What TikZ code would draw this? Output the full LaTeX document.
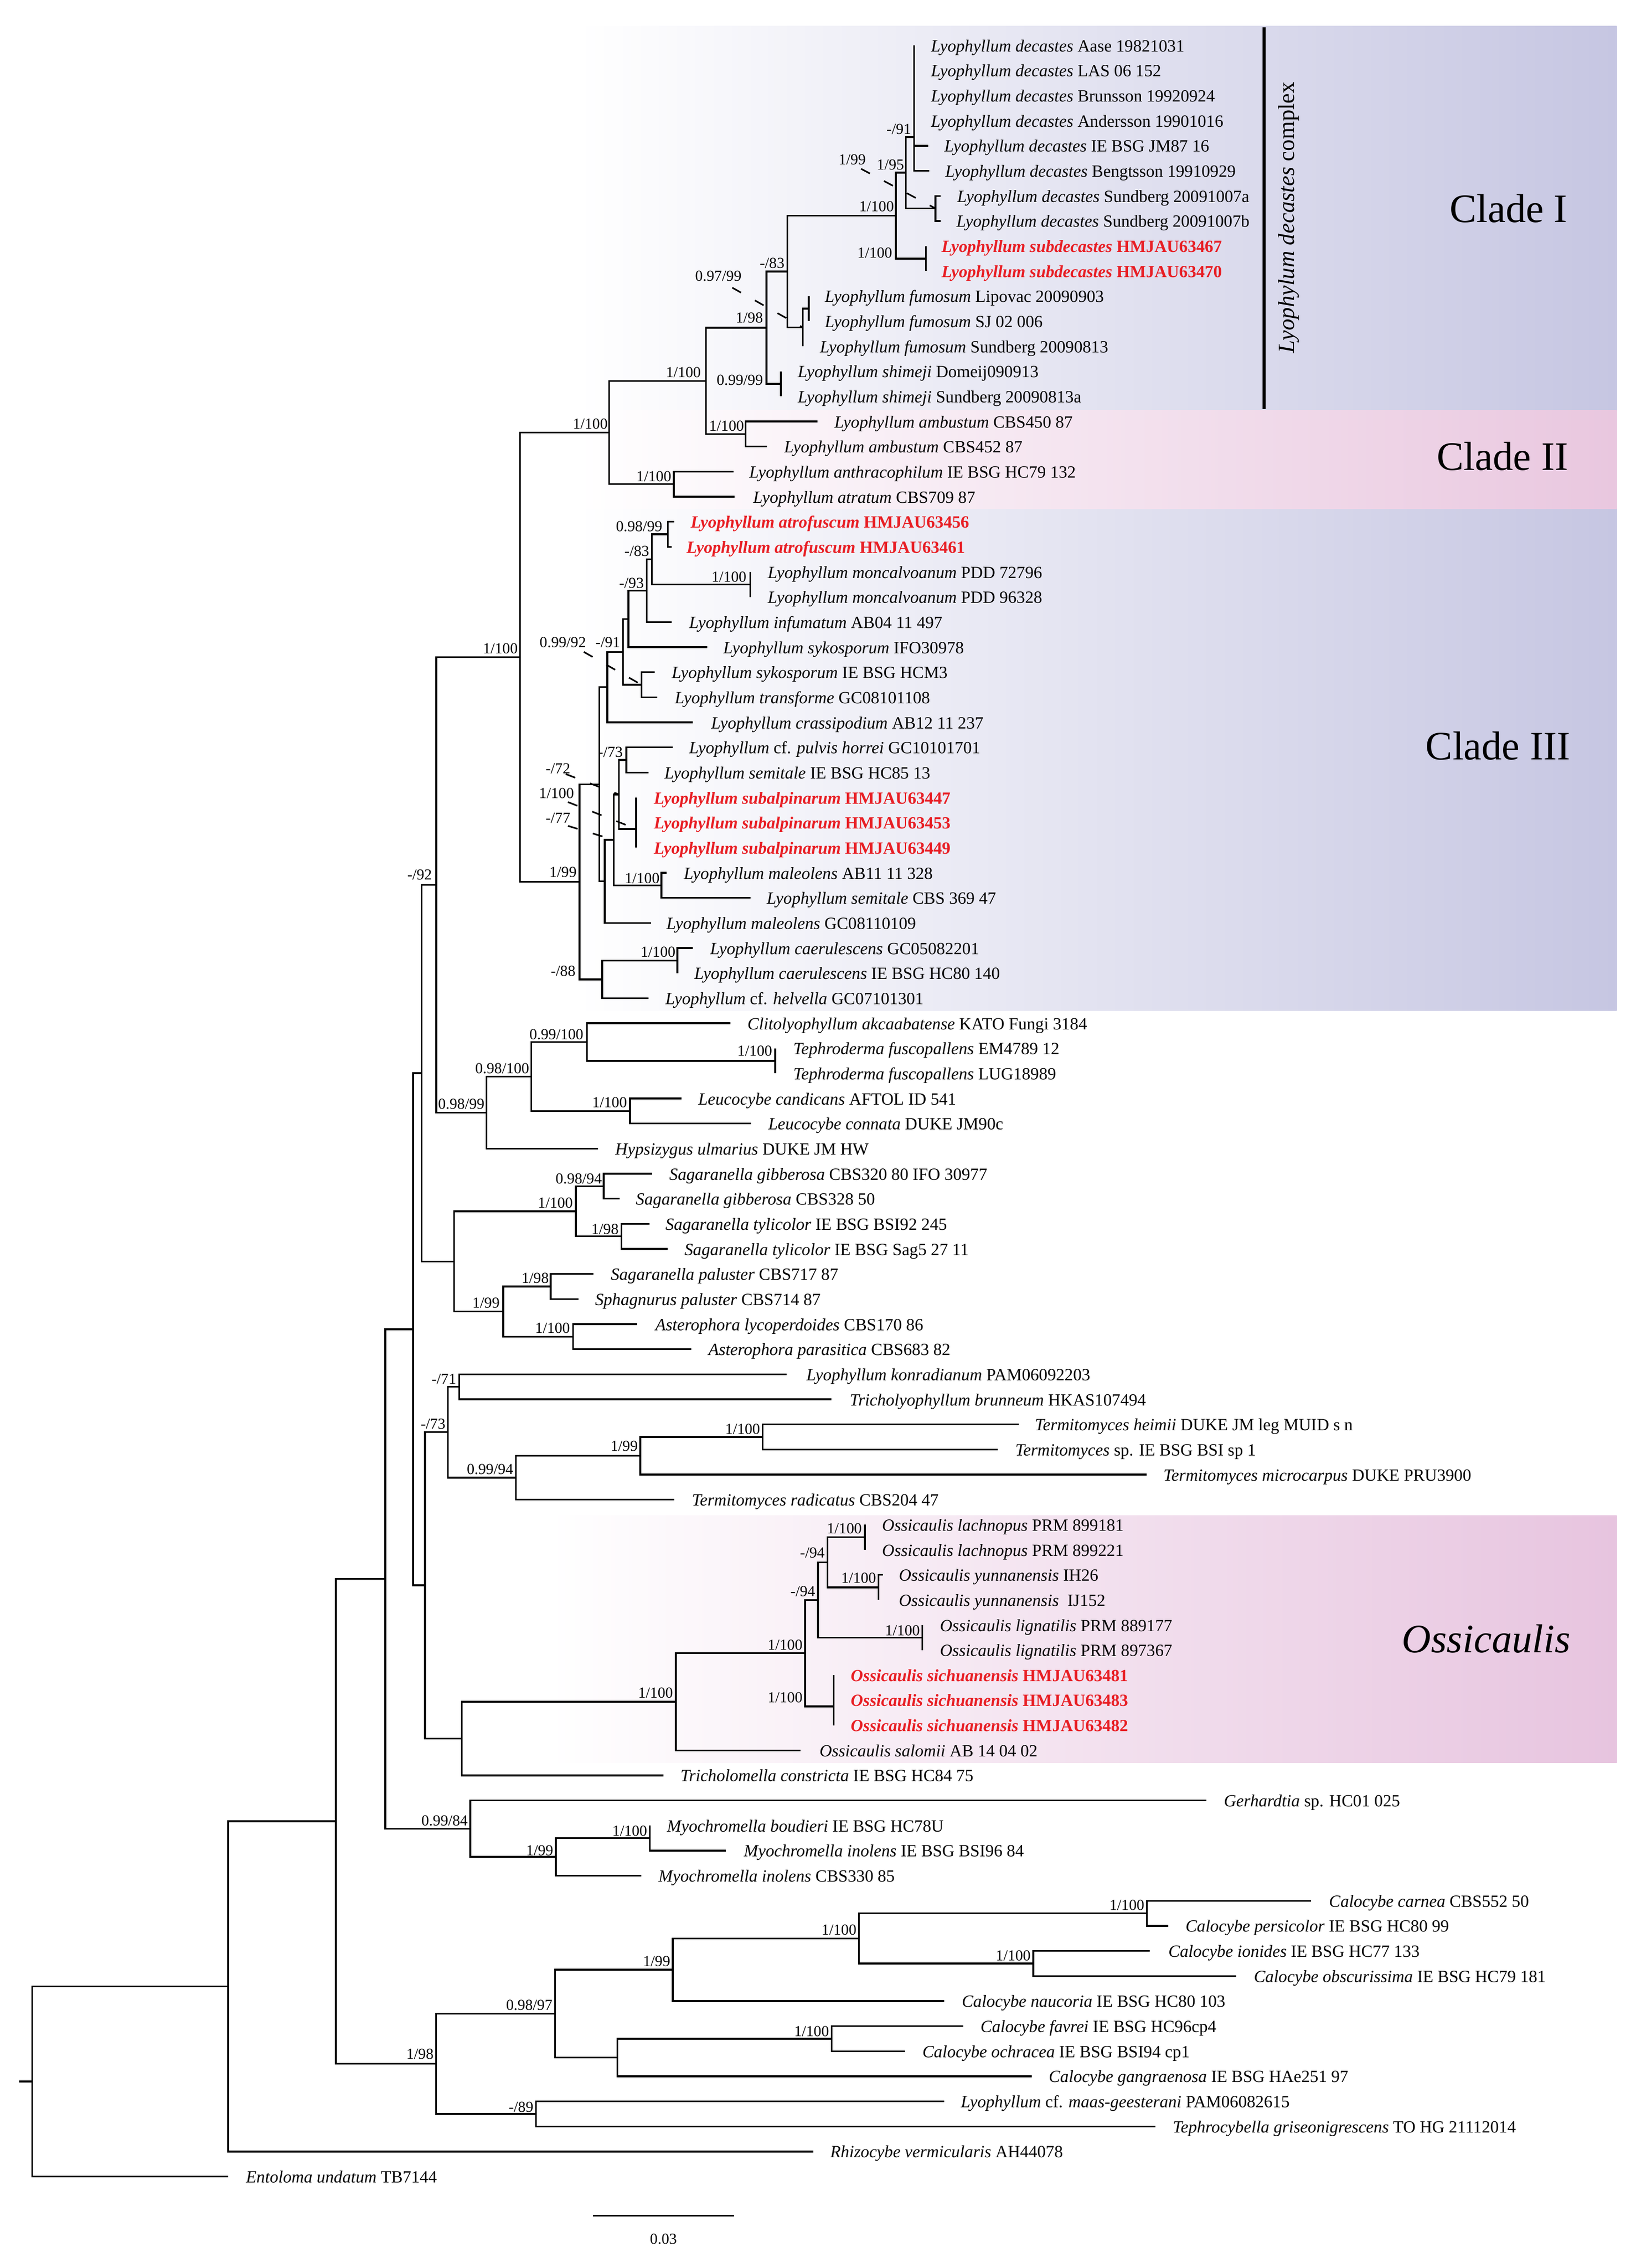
\documentclass[tikz,border=0pt]{standalone}
\usepackage{fontspec}
\setmainfont{Liberation Serif}
\definecolor{lav}{RGB}{198,198,226}
\definecolor{pinkb}{RGB}{233,199,223}
\definecolor{pinko}{RGB}{231,196,223}
\definecolor{hired}{RGB}{232,30,36}
\newcommand{\redl}[2]{\textcolor{hired}{\bfseries\textit{#1} #2}}
\newcommand{\lf}[4]{%
  \coordinate (e#1) at ({#2},{31.5+(#1-1)*17.38});
  \node[leaf] (t#1) at ({#3},{31.5+(#1-1)*17.38+4.3}) {#4};}
\newcommand{\bsl}[4]{\node[supl] (#1) at (#2,#3) {#4};}
\begin{document}
\begin{tikzpicture}[x=1pt,y=-1pt,
  leaf/.style={anchor=base west,inner sep=0pt,font=\fontsize{11.85}{13}\selectfont},
  supl/.style={anchor=base east,inner sep=0pt,font=\fontsize{10.6}{12}\selectfont},
  clade/.style={anchor=base east,inner sep=0pt,font=\fontsize{28}{32}\selectfont},
  branch/.style={line width=1.2pt,black},
  leader/.style={line width=1.1pt,black,dash pattern=on 7pt off 11pt}]
\useasboundingbox (0,0) rectangle (1134,1572.2);
\fill[white] (0,0) rectangle (1134,1572.2);
% clade backgrounds
\shade[left color=white,right color=lav] (400,17.9) rectangle (1121,700.6);
\shade[left color=white,right color=pinkb] (400,284.4) rectangle (1121,352.7);
\shade[left color=white,right color=pinko] (380,1050.4) rectangle (1121,1221.9);
% internal nodes
\coordinate (nO) at (633.7,95);
\coordinate (nP) at (648.6,144.47);
\coordinate (nN) at (628,119.7);
\coordinate (nSD) at (642,179.23);
\coordinate (nK) at (621.1,149.5);
\coordinate (nM) at (560.7,213.99);
\coordinate (nL) at (556.7,227.0);
\coordinate (nJ) at (545.8,188.25);
\coordinate (nSH) at (541.5,266.13);
\coordinate (nI) at (531.5,227.19);
\coordinate (nAM) at (517,300.89);
\coordinate (nH) at (489.4,264.04);
\coordinate (nAN) at (467.2,335.65);
\coordinate (nG) at (422.3,299.85);
\coordinate (nAF) at (463,370.41);
\coordinate (nMO) at (520.2,405.17);
\coordinate (nQ) at (452,387.79);
\coordinate (nR) at (448.4,409.52);
\coordinate (nS) at (435.7,429.07);
\coordinate (nU) at (444.8,474.69);
\coordinate (nT) at (432,451.88);
\coordinate (nV) at (421.1,476.32);
\coordinate (nAC) at (434.3,526.83);
\coordinate (nSB) at (441.1,574.6);
\coordinate (nAB) at (429.1,550.7);
\coordinate (nML) at (458.6,613.73);
\coordinate (nAA) at (425.5,582.2);
\coordinate (nZ) at (419.3,611.0);
\coordinate (nW) at (415.6,543.66);
\coordinate (nCA) at (469.6,665.87);
\coordinate (nE88) at (417.5,678.9);
\coordinate (nX) at (401.8,611.28);
\coordinate (nF) at (360.6,455.57);
\coordinate (nTE) at (537.5,735.39);
\coordinate (nCL) at (407,722.36);
\coordinate (nLE) at (436.8,770.15);
\coordinate (nCT) at (368.3,746.26);
\coordinate (nHY) at (337.3,771.24);
\coordinate (nE) at (302.5,613.4);
\coordinate (nGI) at (418.6,822.29);
\coordinate (nTY) at (431,857.05);
\coordinate (nSG) at (399.3,839.67);
\coordinate (nPA) at (381.8,891.81);
\coordinate (nAS) at (397.3,926.57);
\coordinate (nPS) at (348.9,909.19);
\coordinate (nSAG) at (314.8,874.43);
\coordinate (n92) at (292.3,743.9);
\coordinate (n71) at (318.3,961.33);
\coordinate (nTH) at (528.8,996.09);
\coordinate (nT99) at (444,1009.13);
\coordinate (nT94) at (357.7,1024.3);
\coordinate (n73) at (310.5,992.8);
\coordinate (nLA) at (599.7,1065.61);
\coordinate (nYU) at (609.2,1100.37);
\coordinate (nOa) at (573.7,1082.99);
\coordinate (nLI) at (639.5,1135.13);
\coordinate (nOb) at (567.2,1109.06);
\coordinate (nSI) at (578,1182.9);
\coordinate (nOc) at (558.2,1145.98);
\coordinate (nOS) at (468.6,1179.66);
\coordinate (nDD) at (320.1,1205.19);
\coordinate (nD) at (294.6,1099.0);
\coordinate (nC) at (286.5,921.45);
\coordinate (nMY1) at (450.5,1274.17);
\coordinate (nMY2) at (385.4,1287.2);
\coordinate (n84) at (326.1,1267.65);
\coordinate (nB) at (267.1,1094.55);
\coordinate (nCC) at (795.2,1326.31);
\coordinate (nIO) at (716.4,1361.07);
\coordinate (nCa) at (595.6,1343.69);
\coordinate (nCb) at (466.5,1365.42);
\coordinate (nFA) at (576.6,1413.21);
\coordinate (nGA) at (428,1426.25);
\coordinate (n97) at (384.8,1395.84);
\coordinate (n89) at (371.7,1465.35);
\coordinate (n98) at (302.4,1430.6);
\coordinate (nA) at (232.9,1262.58);
\coordinate (nRR) at (158.2,1377.0);
\coordinate (nRoot) at (22.4,1442.9);
\coordinate (nStub) at (13.3,1442.9);
% leaves
\lf{1}{633.7}{645.3}{\textit{Lyophyllum decastes} Aase 19821031}
\lf{2}{633.7}{645.3}{\textit{Lyophyllum decastes} LAS 06 152}
\lf{3}{633.7}{645.3}{\textit{Lyophyllum decastes} Brunsson 19920924}
\lf{4}{633.7}{645.3}{\textit{Lyophyllum decastes} Andersson 19901016}
\lf{5}{643.6}{654.6}{\textit{Lyophyllum decastes} IE BSG JM87 16}
\lf{6}{644.3}{655.2}{\textit{Lyophyllum decastes} Bengtsson 19910929}
\lf{7}{652}{663.5}{\textit{Lyophyllum decastes} Sundberg 20091007a}
\lf{8}{652}{663}{\textit{Lyophyllum decastes} Sundberg 20091007b}
\lf{9}{642}{652.6}{\redl{Lyophyllum subdecastes}{HMJAU63467}}
\lf{10}{642}{652.6}{\redl{Lyophyllum subdecastes}{HMJAU63470}}
\lf{11}{560.7}{571.7}{\textit{Lyophyllum fumosum} Lipovac 20090903}
\lf{12}{560.7}{571.7}{\textit{Lyophyllum fumosum} SJ 02 006}
\lf{13}{556.7}{568.3}{\textit{Lyophyllum fumosum} Sundberg 20090813}
\lf{14}{541.5}{553}{\textit{Lyophyllum shimeji} Domeij090913}
\lf{15}{541.5}{553}{\textit{Lyophyllum shimeji} Sundberg 20090813a}
\lf{16}{566.7}{578.3}{\textit{Lyophyllum ambustum} CBS450 87}
\lf{17}{531.9}{543.5}{\textit{Lyophyllum ambustum} CBS452 87}
\lf{18}{508.7}{519.3}{\textit{Lyophyllum anthracophilum} IE BSG HC79 132}
\lf{19}{509.3}{522}{\textit{Lyophyllum atratum} CBS709 87}
\lf{20}{467.4}{478.7}{\redl{Lyophyllum atrofuscum}{HMJAU63456}}
\lf{21}{465.6}{475.8}{\redl{Lyophyllum atrofuscum}{HMJAU63461}}
\lf{22}{520.2}{532.2}{\textit{Lyophyllum moncalvoanum} PDD 72796}
\lf{23}{520.2}{532.2}{\textit{Lyophyllum moncalvoanum} PDD 96328}
\lf{24}{465.6}{477.6}{\textit{Lyophyllum infumatum} AB04 11 497}
\lf{25}{490.3}{501.3}{\textit{Lyophyllum sykosporum} IFO30978}
\lf{26}{453.9}{465.6}{\textit{Lyophyllum sykosporum} IE BSG HCM3}
\lf{27}{455.7}{467.7}{\textit{Lyophyllum transforme} GC08101108}
\lf{28}{480.5}{492.9}{\textit{Lyophyllum crassipodium} AB12 11 237}
\lf{29}{466.6}{477.6}{\textit{Lyophyllum} cf. \textit{pulvis horrei} GC10101701}
\lf{30}{449.5}{460.5}{\textit{Lyophyllum semitale} IE BSG HC85 13}
\lf{31}{441.1}{453.2}{\redl{Lyophyllum subalpinarum}{HMJAU63447}}
\lf{32}{441.1}{453.2}{\redl{Lyophyllum subalpinarum}{HMJAU63453}}
\lf{33}{441.1}{453.2}{\redl{Lyophyllum subalpinarum}{HMJAU63449}}
\lf{34}{462}{474}{\textit{Lyophyllum maleolens} AB11 11 328}
\lf{35}{520.2}{531.5}{\textit{Lyophyllum semitale} CBS 369 47}
\lf{36}{451.3}{461.9}{\textit{Lyophyllum maleolens} GC08110109}
\lf{37}{480.5}{492.2}{\textit{Lyophyllum caerulescens} GC05082201}
\lf{38}{469.6}{481.2}{\textit{Lyophyllum caerulescens} IE BSG HC80 140}
\lf{39}{449.5}{461.2}{\textit{Lyophyllum} cf. \textit{helvella} GC07101301}
\lf{40}{506.5}{518.1}{\textit{Clitolyophyllum akcaabatense} KATO Fungi 3184}
\lf{41}{537.5}{549.9}{\textit{Tephroderma fuscopallens} EM4789 12}
\lf{42}{537.5}{549.9}{\textit{Tephroderma fuscopallens} LUG18989}
\lf{43}{472.4}{484}{\textit{Leucocybe candicans} AFTOL ID 541}
\lf{44}{520.8}{532.5}{\textit{Leucocybe connata} DUKE JM90c}
\lf{45}{414.7}{426.4}{\textit{Hypsizygus ulmarius} DUKE JM HW}
\lf{46}{452.3}{463.9}{\textit{Sagaranella gibberosa} CBS320 80 IFO 30977}
\lf{47}{429.8}{440.7}{\textit{Sagaranella gibberosa} CBS328 50}
\lf{48}{450.4}{461.2}{\textit{Sagaranella tylicolor} IE BSG BSI92 245}
\lf{49}{462.8}{474.4}{\textit{Sagaranella tylicolor} IE BSG Sag5 27 11}
\lf{50}{411.6}{423.3}{\textit{Sagaranella paluster} CBS717 87}
\lf{51}{401.2}{412.4}{\textit{Sphagnurus paluster} CBS714 87}
\lf{52}{441.8}{454.2}{\textit{Asterophora lycoperdoides} CBS170 86}
\lf{53}{479.4}{491}{\textit{Asterophora parasitica} CBS683 82}
\lf{54}{545.2}{559}{\textit{Lyophyllum konradianum} PAM06092203}
\lf{55}{576.4}{589}{\textit{Tricholyophyllum brunneum} HKAS107494}
\lf{56}{706.5}{717.4}{\textit{Termitomyces heimii} DUKE JM leg MUID s n}
\lf{57}{691.7}{703.8}{\textit{Termitomyces} sp. IE BSG BSI sp 1}
\lf{58}{795}{806.5}{\textit{Termitomyces microcarpus} DUKE PRU3900}
\lf{59}{467.6}{479.6}{\textit{Termitomyces radicatus} CBS204 47}
\lf{60}{599.7}{611.4}{\textit{Ossicaulis lachnopus} PRM 899181}
\lf{61}{599.7}{611.4}{\textit{Ossicaulis lachnopus} PRM 899221}
\lf{62}{612}{623.1}{\textit{Ossicaulis yunnanensis} IH26}
\lf{63}{609.2}{623.1}{\textit{Ossicaulis yunnanensis}\ \ IJ152}
\lf{64}{639.5}{651.6}{\textit{Ossicaulis lignatilis} PRM 889177}
\lf{65}{639.5}{651.6}{\textit{Ossicaulis lignatilis} PRM 897367}
\lf{66}{578}{589.7}{\redl{Ossicaulis sichuanensis}{HMJAU63481}}
\lf{67}{578}{589.7}{\redl{Ossicaulis sichuanensis}{HMJAU63483}}
\lf{68}{578}{589.7}{\redl{Ossicaulis sichuanensis}{HMJAU63482}}
\lf{69}{555.1}{568.1}{\textit{Ossicaulis salomii} AB 14 04 02}
\lf{70}{459.9}{471.6}{\textit{Tricholomella constricta} IE BSG HC84 75}
\lf{71}{836.6}{848.4}{\textit{Gerhardtia} sp. HC01 025}
\lf{72}{450.5}{462.3}{\textit{Myochromella boudieri} IE BSG HC78U}
\lf{73}{503.2}{515.6}{\textit{Myochromella inolens} IE BSG BSI96 84}
\lf{74}{444.6}{456.4}{\textit{Myochromella inolens} CBS330 85}
\lf{75}{908.9}{921.3}{\textit{Calocybe carnea} CBS552 50}
\lf{76}{810}{821.8}{\textit{Calocybe persicolor} IE BSG HC80 99}
\lf{77}{797}{810}{\textit{Calocybe ionides} IE BSG HC77 133}
\lf{78}{857.3}{869.2}{\textit{Calocybe obscurissima} IE BSG HC79 181}
\lf{79}{654.8}{666.7}{\textit{Calocybe naucoria} IE BSG HC80 103}
\lf{80}{667.8}{679.7}{\textit{Calocybe favrei} IE BSG HC96cp4}
\lf{81}{627.6}{639.4}{\textit{Calocybe ochracea} IE BSG BSI94 cp1}
\lf{82}{715.2}{727}{\textit{Calocybe gangraenosa} IE BSG HAe251 97}
\lf{83}{654.8}{666}{\textit{Lyophyllum} cf. \textit{maas-geesterani} PAM06082615}
\lf{84}{801}{813}{\textit{Tephrocybella griseonigrescens} TO HG 21112014}
\lf{85}{564}{575.5}{\textit{Rhizocybe vermicularis} AH44078}
\lf{86}{158.2}{170.4}{\textit{Entoloma undatum} TB7144}
% branches
\foreach \p/\c in {nO/e1,nO/e2,nO/e3,nO/e4,nO/e5,nO/e6,nP/e7,nP/e8,nN/nO,nN/nP,
  nSD/e9,nSD/e10,nK/nN,nK/nSD,nM/e11,nM/e12,nL/nM,nL/e13,nJ/nK,nJ/nL,
  nSH/e14,nSH/e15,nI/nJ,nI/nSH,nAM/e16,nAM/e17,nH/nI,nH/nAM,nAN/e18,nAN/e19,
  nG/nH,nG/nAN,nF/nG,nF/nX,
  nAF/e20,nAF/e21,nMO/e22,nMO/e23,nQ/nAF,nQ/nMO,nR/nQ,nR/e24,nS/nR,nS/e25,
  nU/e26,nU/e27,nT/nS,nT/nU,nV/nT,nV/e28,nAC/e29,nAC/e30,nSB/e31,nSB/e32,nSB/e33,
  nAB/nAC,nAB/nSB,nML/e34,nML/e35,nAA/nAB,nAA/nML,nZ/nAA,nZ/e36,nW/nV,nW/nZ,
  nCA/e37,nCA/e38,nE88/nCA,nE88/e39,nX/nW,nX/nE88,
  nE/nF,nE/nHY,nHY/nCT,nHY/e45,nCT/nCL,nCT/nLE,nCL/e40,nCL/nTE,nTE/e41,nTE/e42,
  nLE/e43,nLE/e44,n92/nE,n92/nSAG,nSAG/nSG,nSAG/nPS,nSG/nGI,nSG/nTY,
  nGI/e46,nGI/e47,nTY/e48,nTY/e49,nPS/nPA,nPS/nAS,nPA/e50,nPA/e51,nAS/e52,nAS/e53,
  nC/n92,nC/nD,nD/n73,nD/nDD,n73/n71,n73/nT94,n71/e54,n71/e55,nT94/nT99,nT94/e59,
  nT99/nTH,nT99/e58,nTH/e56,nTH/e57,
  nDD/nOS,nDD/e70,nOS/nOc,nOS/e69,nOc/nOb,nOc/nSI,nOb/nOa,nOb/nLI,nOa/nLA,nOa/nYU,
  nLA/e60,nLA/e61,nYU/e62,nYU/e63,nLI/e64,nLI/e65,nSI/e66,nSI/e67,nSI/e68,
  nB/nC,nB/n84,n84/e71,n84/nMY2,nMY2/nMY1,nMY2/e74,nMY1/e72,nMY1/e73,
  nA/nB,nA/n98,n98/n97,n98/n89,n97/nCb,n97/nGA,nCb/nCa,nCb/e79,nCa/nCC,nCa/nIO,
  nCC/e75,nCC/e76,nIO/e77,nIO/e78,nGA/nFA,nGA/e82,nFA/e80,nFA/e81,n89/e83,n89/e84,
  nRR/nA,nRR/e85,nRoot/nRR,nRoot/e86}
  \draw[branch] (\p) |- (\c);
\draw[branch] (nStub) -- (nRoot);
% support values
\bsl{s1}{632}{93}{-/91}
\bsl{s2}{600.5}{114}{1/99}
\bsl{s3}{627}{117.5}{1/95}
\bsl{s4}{620}{146.7}{1/100}
\bsl{s5}{618.8}{178.8}{1/100}
\bsl{s6}{544.1}{186}{-/83}
\bsl{s7}{514.3}{195}{0.97/99}
\bsl{s8}{529.2}{223.7}{1/98}
\bsl{s9}{529.2}{267}{0.99/99}
\bsl{s10}{486.1}{261.5}{1/100}
\bsl{s11}{421.5}{297.5}{1/100}
\bsl{s12}{516}{298.7}{1/100}
\bsl{s13}{465.6}{333.8}{1/100}
\bsl{s14}{359.2}{453}{1/100}
\bsl{s15}{459.4}{368.4}{0.98/99}
\bsl{s16}{450.3}{385.6}{-/83}
\bsl{s17}{517.7}{403.5}{1/100}
\bsl{s18}{446.6}{407.6}{-/93}
\bsl{s19}{430.2}{448.7}{-/91}
\bsl{s20}{406.5}{448.7}{0.99/92}
\bsl{s21}{432}{525}{-/73}
\bsl{s22}{395.6}{536.2}{-/72}
\bsl{s23}{398.1}{553.5}{1/100}
\bsl{s24}{395.6}{570.7}{-/77}
\bsl{s25}{400}{608.2}{1/99}
\bsl{s26}{457.5}{612.4}{1/100}
\bsl{s27}{468.5}{663.5}{1/100}
\bsl{s28}{399.2}{676.6}{-/88}
\bsl{s29}{299.7}{610}{-/92}
\bsl{s30}{404.7}{720.5}{0.99/100}
\bsl{s31}{367.1}{744}{0.98/100}
\bsl{s32}{336.1}{768.6}{0.98/99}
\bsl{s33}{535.6}{732}{1/100}
\bsl{s34}{434.9}{767.8}{1/100}
\bsl{s35}{417.5}{820.5}{0.98/94}
\bsl{s36}{397.3}{837.2}{1/100}
\bsl{s37}{429.1}{855.5}{1/98}
\bsl{s38}{380.7}{889.5}{1/98}
\bsl{s39}{346.6}{906.5}{1/99}
\bsl{s40}{395.4}{924}{1/100}
\bsl{s41}{316.5}{959.5}{-/71}
\bsl{s42}{309}{990.4}{-/73}
\bsl{s43}{356}{1022}{0.99/94}
\bsl{s44}{442.4}{1006}{1/99}
\bsl{s45}{527.2}{994}{1/100}
\bsl{s46}{597.7}{1063}{1/100}
\bsl{s47}{572}{1079.7}{-/94}
\bsl{s48}{607.6}{1097.5}{1/100}
\bsl{s49}{565.4}{1106.8}{-/94}
\bsl{s50}{638}{1133.6}{1/100}
\bsl{s51}{556.6}{1143.6}{1/100}
\bsl{s52}{556.6}{1180.2}{1/100}
\bsl{s53}{466.8}{1177}{1/100}
\bsl{s54}{324.5}{1265.7}{0.99/84}
\bsl{s55}{448.9}{1272.8}{1/100}
\bsl{s56}{383.8}{1286.2}{1/99}
\bsl{s57}{793.6}{1324}{1/100}
\bsl{s58}{594}{1341.2}{1/100}
\bsl{s59}{464.9}{1363}{1/99}
\bsl{s60}{714.8}{1359.2}{1/100}
\bsl{s61}{383.2}{1393.6}{0.98/97}
\bsl{s62}{575}{1411.7}{1/100}
\bsl{s63}{300.8}{1427.3}{1/98}
\bsl{s64}{370}{1464.2}{-/89}
% leader lines
\coordinate (ld1) at (597,117);
\coordinate (ld2) at (507.7,199.4);
\coordinate (ld3) at (404.8,451.9);
\coordinate (ld4) at (392.3,536.6);
\coordinate (ld5) at (393.8,556);
\coordinate (ld6) at (393.8,572.5);
\draw[leader] (ld1) -- (nP);
\draw[leader] (ld2) -- (nL);
\draw[leader] (ld3) -- (nU);
\draw[leader] (ld4) -- (nAB);
\draw[leader] (ld5) -- (nSB);
\draw[leader] (ld6) -- (nAA);
% complex bar and label
\coordinate (cb1) at (876.6,18.8);
\coordinate (cb2) at (876.6,283.5);
\draw[line width=2.2pt] (cb1) -- (cb2);
\node[rotate=90,inner sep=0pt,font=\fontsize{16}{18}\selectfont] (cx) at (893.5,150.7) {\textit{Lyophylum decastes} complex};
% clade names
\node[clade] (c1) at (1087,154) {Clade I};
\node[clade] (c2) at (1087.5,325.9) {Clade II};
\node[clade] (c3) at (1089,526.7) {Clade III};
\node[clade] (c4) at (1089,1145.7) {\textit{Ossicaulis}};
% scale bar
\coordinate (sb1) at (411,1536);
\coordinate (sb2) at (509,1536);
\draw[branch] (sb1) -- (sb2);
\node[anchor=base,inner sep=0pt,font=\fontsize{10.6}{12}\selectfont] (sbl) at (460,1555.5) {0.03};
\end{tikzpicture}
\end{document}
